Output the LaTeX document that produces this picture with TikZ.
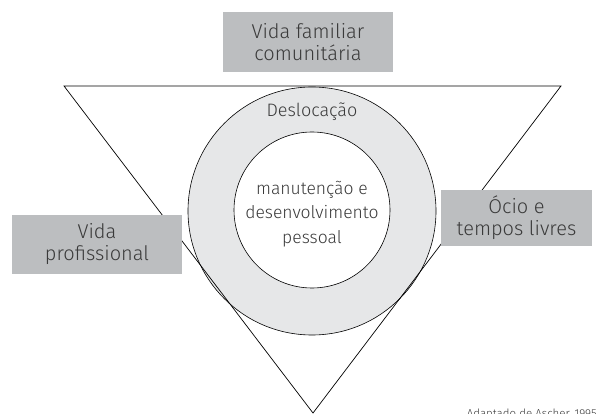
\documentclass[tikz,border=0pt]{standalone}
\usepackage{fontspec}
\setmainfont{Fira Sans}[UprightFont=* Light]
\usepackage{tikz}

\definecolor{cinzacaixa}{HTML}{BCBEC0}
\definecolor{cinzaanel}{HTML}{E6E7E8}
\definecolor{cinzatexto}{HTML}{3A3A3A}

\begin{document}
\begin{tikzpicture}[x=1pt, y=-1pt,
  caixa/.style={fill=cinzacaixa, inner sep=0pt, align=center, text=cinzatexto,
    font=\fontsize{20}{22}\selectfont},
  rotulo/.style={inner sep=0pt, align=center, text=cinzatexto,
    font=\fontsize{17.5}{24.5}\selectfont}]

\useasboundingbox (0,0) rectangle (597,414);

% Draw the ring
\node[circle, draw, line width=0.6pt, fill=cinzaanel, minimum size=248pt, inner sep=0pt] (anel) at (312,211) {};
\node[circle, draw, line width=0.6pt, fill=white, minimum size=156pt, inner sep=0pt] (nucleo) at (312,210) {};

% Triangle
\coordinate (T1) at (64,86);
\coordinate (T2) at (561,86);
\coordinate (T3) at (313,413);
\draw[line width=0.7pt] (T1) -- (T2) -- (T3) -- cycle;

% Boxes
\node[caixa, minimum width=170pt, minimum height=60pt] (familiar) at (308,42) {Vida familiar\\comunitária};
\node[caixa, minimum width=170pt, minimum height=59pt] (profissional) at (97,244.5) {Vida\\profissional};
\node[caixa, minimum width=151pt, minimum height=56pt] (ocio) at (516.5,218) {Ócio e\\tempos livres};

% Labels in the circles
\node[rotulo, anchor=base, font=\fontsize{18}{20}\selectfont] (deslocacao) at (312,117) {Deslocação};
\node[rotulo] (pessoal) at (312,214) {manutenção e\\desenvolvimento\\pessoal};

% Source (cut by the page)
\node[rotulo, anchor=base east, font=\fontsize{11.5}{12}\selectfont] (fonte) at (597,417) {Adaptado de Ascher, 1995};

\end{tikzpicture}
\end{document}
